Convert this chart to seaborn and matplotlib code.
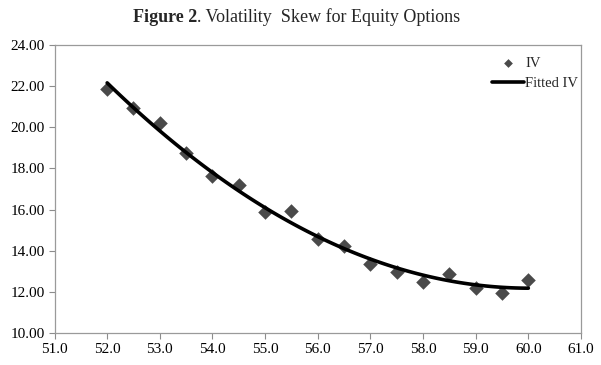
import matplotlib
matplotlib.use("Agg")
import matplotlib.pyplot as plt
import seaborn as sns
import pandas as pd
from matplotlib.ticker import FormatStrFormatter

strike = [52.0, 52.5, 53.0, 53.5, 54.0, 54.5, 55.0, 55.5, 56.0, 56.5,
          57.0, 57.5, 58.0, 58.5, 59.0, 59.5, 60.0]
iv = [21.85, 20.95, 20.20, 18.73, 17.63, 17.20, 15.87, 15.92, 14.57, 14.22,
      13.34, 12.95, 12.46, 12.88, 12.21, 11.93, 12.60]
x_ticks = [51, 52, 53, 54, 55, 56, 57, 58, 59, 60, 61]
y_ticks = [10, 12, 14, 16, 18, 20, 22, 24]

df = pd.DataFrame({"strike": strike, "iv": iv})

sns.set_style("white")
plt.rcParams["font.family"] = ["Liberation Serif", "DejaVu Serif"]

fig = plt.figure(figsize=(6.01, 3.65), dpi=100)
ax = fig.add_axes([0.0907, 0.0877, 0.876, 0.789])

sns.scatterplot(data=df, x="strike", y="iv", ax=ax, marker="D", s=55,
                color="#4a4a4a", edgecolor="#4a4a4a", linewidth=0, zorder=2)
sns.regplot(data=df, x="strike", y="iv", ax=ax, order=2, ci=None, scatter=False,
            truncate=True, line_kws=dict(color="black", lw=2.6, zorder=3))

ax.set_xlim(51, 61)
ax.set_ylim(10, 24)
ax.set_xticks(x_ticks)
ax.set_yticks(y_ticks)
ax.xaxis.set_major_formatter(FormatStrFormatter("%.1f"))
ax.yaxis.set_major_formatter(FormatStrFormatter("%.2f"))
ax.set_xlabel("")
ax.set_ylabel("")
ax.tick_params(axis="both", direction="out", length=4, width=0.8, color="#8c8c8c",
               labelsize=11, labelcolor="black", pad=3, bottom=True, left=True)
for sp in ax.spines.values():
    sp.set_color("#9a9a9a")
    sp.set_linewidth(0.9)

scat = ax.collections[0]
fit_line = ax.get_lines()[-1]
leg = ax.legend([scat, fit_line], ["IV", "Fitted IV"], loc="upper left",
                bbox_to_anchor=(0.812, 0.995), frameon=False, fontsize=10.5,
                handlelength=2.2, handletextpad=0.05, labelspacing=0.45, markerscale=0.6,
                borderaxespad=0.3)

t1 = fig.text(0.221, 0.952, "Figure 2", fontsize=13, fontweight="bold", ha="left", va="center")
fig.canvas.draw()
bb = t1.get_window_extent()
x2 = bb.x1 / fig.bbox.width
fig.text(x2, 0.952, ". Volatility  Skew for Equity Options", fontsize=13, ha="left", va="center")

fig.savefig("out.png", dpi=100)
